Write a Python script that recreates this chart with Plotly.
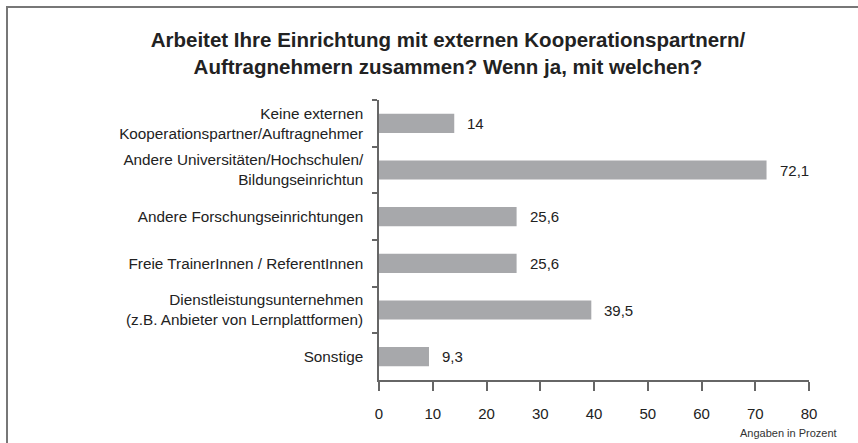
import plotly.graph_objects as go

categories = [
    "Keine externen<br>Kooperationspartner/Auftragnehmer",
    "Andere Universitäten/Hochschulen/<br>Bildungseinrichtun",
    "Andere Forschungseinrichtungen",
    "Freie TrainerInnen / ReferentInnen",
    "Dienstleistungsunternehmen<br>(z.B. Anbieter von Lernplattformen)",
    "Sonstige",
]
values = [14, 72.1, 25.6, 25.6, 39.5, 9.3]
value_labels = ["14", "72,1", "25,6", "25,6", "39,5", "9,3"]
x_ticks = [0, 10, 20, 30, 40, 50, 60, 70, 80]

title_text = ("Arbeitet Ihre Einrichtung mit externen Kooperationspartnern/<br>"
              "Auftragnehmern zusammen? Wenn ja, mit welchen?")
note_text = "Angaben in Prozent"

W, H = 858, 443
L, R, T, B = 379, 49, 100, 63
pw, ph = W - L - R, H - T - B
FONT = "Liberation Sans, Arial, sans-serif"


def px_to_paper_x(px):
    return (px - L) / pw


def py_to_paper_y(py):
    return 1 - (py - T) / ph


fig = go.Figure(go.Bar(
    x=values, y=categories, orientation="h",
    marker=dict(color="#a7a8ab", line=dict(width=0)),
    width=0.41, hoverinfo="skip",
))

annotations = []
for v, lab, c in zip(values, value_labels, categories):
    annotations.append(dict(x=v, y=c, xref="x", yref="y", text=lab,
                            showarrow=False, xanchor="left", xshift=11,
                            font=dict(family=FONT, size=15, color="#222")))
annotations.append(dict(x=px_to_paper_x(839), y=py_to_paper_y(433), xref="paper", yref="paper",
                        text=note_text, showarrow=False, xanchor="right", yanchor="middle",
                        font=dict(family=FONT, size=11, color="#333")))

fig.update_layout(
    width=W, height=H,
    margin=dict(l=L, r=R, t=T, b=B, autoexpand=False),
    paper_bgcolor="white", plot_bgcolor="white",
    showlegend=False,
    title=dict(text=title_text, x=448 / W, xanchor="center", xref="container",
               y=1 - 47 / H, yanchor="middle", yref="container",
               font=dict(family=FONT, size=20.5, color="#222", weight="bold")),
    xaxis=dict(range=[0, 80], tickvals=x_ticks, showgrid=False, zeroline=False,
               showline=True, linecolor="#666", linewidth=1.5,
               ticks="outside", ticklen=9, tickcolor="#666", tickwidth=1.5,
               ticklabelstandoff=10,
               tickfont=dict(family=FONT, size=15, color="#222")),
    yaxis=dict(categoryorder="array", categoryarray=categories, autorange="reversed",
               showgrid=False, zeroline=False, showline=True, linecolor="#666", linewidth=1.5,
               ticks="outside", tickson="boundaries", ticklen=5, tickcolor="#666", tickwidth=1.5,
               ticklabelstandoff=11,
               tickfont=dict(family=FONT, size=15.3, color="#222")),
    annotations=annotations,
    shapes=[dict(type="rect", xref="paper", yref="paper",
                 x0=px_to_paper_x(7), x1=px_to_paper_x(W + 40),
                 y0=py_to_paper_y(H + 40), y1=py_to_paper_y(7),
                 line=dict(color="#777", width=2), fillcolor="rgba(0,0,0,0)", layer="below")],
)

fig.write_html("out.html", config={"displayModeBar": False},
               post_script="document.body.style.margin='0';document.body.style.overflow='hidden';")
